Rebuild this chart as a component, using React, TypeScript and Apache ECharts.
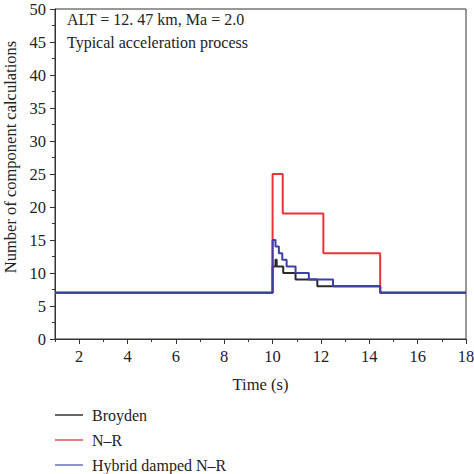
import React, { useEffect, useRef } from "react";
import * as echarts from "echarts";

const broydenTime = [1, 10.0, 10.12, 10.17, 10.44, 10.95, 11.85, 14.45, 18];
const broydenValue = [7, 11, 12, 11, 10, 9, 8, 7, 7];
const nrTime = [1, 10.0, 10.42, 12.1, 14.45, 18];
const nrValue = [7, 25, 19, 13, 7, 7];
const hybridTime = [1, 10.0, 10.12, 10.26, 10.4, 10.58, 10.95, 11.5, 12.5, 14.45, 18];
const hybridValue = [7, 15, 14, 13, 12, 11, 10, 9, 8, 7, 7];
const xMajorTicks = [2, 4, 6, 8, 10, 12, 14, 16, 18];
const xMinorTicks = [1, 3, 5, 7, 9, 11, 13, 15, 17];
const seriesNames = ["Broyden", "N\u2013R", "Hybrid damped N\u2013R"];
const titleLines = ["ALT = 12. 47 km, Ma = 2.0", "Typical acceleration process"];
const yAxisName = "Number of component calculations";

const FONT = "'Liberation Serif', 'Times New Roman', serif";
const AX = "#333333";

const zip = (t: number[], v: number[]) => t.map((x, i) => [x, v[i]]);

export default function App() {
  const ref = useRef<HTMLDivElement>(null);
  useEffect(() => {
    if (!ref.current) return;
    const chart = echarts.init(ref.current, undefined, { renderer: "svg" });
    const colors = ["#2a2a2a", "#e8353c", "#3a40a6"];
    const legendColors = ["#333333", "#e0505a", "#6870b8"];
    chart.setOption({
      animation: false,
      backgroundColor: "#ffffff",
      textStyle: { fontFamily: FONT },
      grid: {
        left: 55,
        right: 8,
        top: 9,
        bottom: 135,
        outerBoundsMode: "none",
        containLabel: false,
        show: true,
        borderColor: AX,
        borderWidth: 1,
        backgroundColor: "transparent",
      },
      legend: {
        orient: "vertical",
        left: 50,
        top: 407,
        height: 70,
        padding: [0, 5],
        icon: "rect",
        itemWidth: 28,
        itemHeight: 1.5,
        itemGap: 9,
        data: seriesNames.map((n, i) => ({ name: n, itemStyle: { color: legendColors[i] } })),
        textStyle: { fontFamily: FONT, fontSize: 16, color: "#222", padding: [0, 0, 0, 4], lineHeight: 15 },
      },
      graphic: [
        {
          type: "text",
          left: 67,
          top: 11,
          style: { text: titleLines[0], font: `16px ${FONT}`, fill: "#222" },
        },
        {
          type: "text",
          left: 67,
          top: 34,
          style: { text: titleLines[1], font: `16px ${FONT}`, fill: "#222" },
        },
        {
          type: "text",
          x: 10,
          y: 157,
          rotation: Math.PI / 2,
          style: {
            text: yAxisName,
            font: `16.5px ${FONT}`,
            fill: "#222",
            textAlign: "center",
            textVerticalAlign: "middle",
          },
        },
      ],
      xAxis: [
        {
          type: "value",
          min: 1,
          max: 18,
          name: "Time (s)",
          nameLocation: "middle",
          nameGap: 37,
          nameTextStyle: { fontFamily: FONT, fontSize: 16.5, color: "#222" },
          splitLine: { show: false },
          axisLine: { show: true, onZero: false, lineStyle: { color: AX, width: 1 } },
          axisTick: { show: true, inside: false, length: 5, customValues: xMajorTicks, lineStyle: { color: AX } },
          axisLabel: { customValues: xMajorTicks, fontFamily: FONT, fontSize: 16.5, color: "#222", margin: 9 },
        },
        {
          type: "value",
          min: 1,
          max: 18,
          position: "bottom",
          splitLine: { show: false },
          axisLine: { show: false },
          axisTick: { show: true, inside: false, length: 3, customValues: xMinorTicks, lineStyle: { color: AX } },
          axisLabel: { show: false },
        },
      ],
      yAxis: {
        type: "value",
        min: 0,
        max: 50,
        interval: 5,
        splitLine: { show: false },
        axisLine: { show: true, lineStyle: { color: AX, width: 1 } },
        axisTick: { show: true, length: 5, lineStyle: { color: AX } },
        minorTick: { show: true, splitNumber: 2, length: 3, lineStyle: { color: AX } },
        axisLabel: { fontFamily: FONT, fontSize: 16.5, color: "#222", margin: 9 },
      },
      series: [
        {
          name: seriesNames[0],
          type: "line",
          step: "end",
          symbol: "none",
          data: zip(broydenTime, broydenValue),
          lineStyle: { color: colors[0], width: 2 },
          itemStyle: { color: colors[0] },
        },
        {
          name: seriesNames[1],
          type: "line",
          step: "end",
          symbol: "none",
          data: zip(nrTime, nrValue),
          lineStyle: { color: colors[1], width: 2 },
          itemStyle: { color: colors[1] },
        },
        {
          name: seriesNames[2],
          type: "line",
          step: "end",
          symbol: "none",
          data: zip(hybridTime, hybridValue),
          lineStyle: { color: colors[2], width: 2 },
          itemStyle: { color: colors[2] },
        },
      ],
    });
    return () => chart.dispose();
  }, []);
  return (
    <div
      ref={ref}
      style={{ position: "fixed", left: 0, top: 0, width: 474, height: 474, background: "#fff" }}
    />
  );
}
